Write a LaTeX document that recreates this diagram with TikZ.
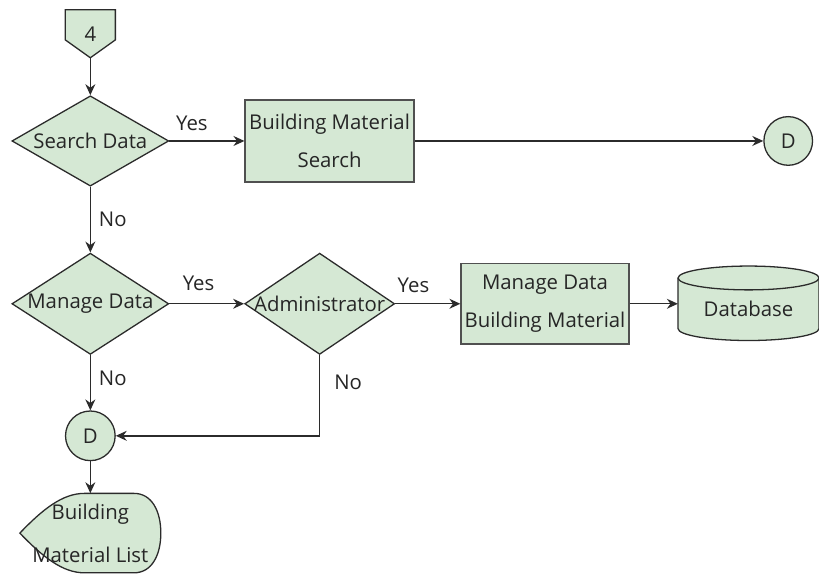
\documentclass[tikz,border=0pt]{standalone}
\usepackage{fontspec}
\setmainfont{Open Sans}
\usepackage{tikz}
\usetikzlibrary{arrows.meta,calc,positioning,shapes.geometric,backgrounds}
\definecolor{flowgreen}{HTML}{D5E8D4}
\definecolor{flowedge}{HTML}{505050}
\definecolor{flowline}{HTML}{2B2B2B}

\begin{document}
\begin{tikzpicture}[
  x=1pt,y=1pt,
  >={Stealth[length=11pt,width=10pt]},
  on grid,
  every node/.style={font=\fontsize{20.5}{38}\selectfont,text=black!85},
  decision/.style={diamond,draw=flowline,line width=1.3pt,fill=flowgreen,inner sep=0pt,
                   minimum width=158pt,minimum height=91pt},
  process/.style={rectangle,draw=flowedge,line width=1.6pt,fill=flowgreen,align=center,
                  minimum width=170pt,minimum height=83pt},
  connector/.style={circle,draw=flowline,line width=1.3pt,fill=flowgreen,inner sep=0pt,
                    minimum size=49pt},
  outline/.style={draw=flowline,line width=1.3pt,fill=flowgreen},
  flow/.style={draw=flowline,line width=1.4pt,->},
  tag/.style={inner sep=2pt}
]
  \node[decision] (search) at (91,-142) {\makebox[0pt]{Search Data}};
  \node[above=108pt of search,minimum width=50pt,minimum height=48pt] (four) {4};
  \node[process,right=241pt of search] (find) {Building Material\\Search};
  \node[connector,right=462pt of find] (jumpA) {D};
  \node[decision,below=164pt of search,minimum height=102pt] (manage) {\makebox[0pt]{Manage Data}};
  \node[decision,right=231pt of manage,minimum width=151pt,minimum height=102pt] (admin)
    {\makebox[0pt]{Administrator}};
  \node[process,right=227pt of admin,minimum width=169pt,minimum height=81pt] (edit)
    {Manage Data\\Building Material};
  \node[right=205pt of edit,minimum width=142pt,minimum height=75pt,
        text height=25pt,text depth=0pt] (db) {Database};
  \node[connector,below=133pt of manage,minimum size=50pt] (jumpB) {D};
  \node[below=98pt of jumpB,minimum width=142pt,minimum height=80pt,align=center] (list)
    {Building\\[5pt]Material List};

  % shapes drawn behind their text
  \begin{scope}[on background layer]
    \path[use as bounding box,fill=white] (0,0) rectangle (819,-578);
    \path[outline] (four.north west) -- (four.north east) -- ($(four.south east)+(0,18)$)
      -- (four.south) -- ($(four.south west)+(0,18)$) -- cycle;
    \path[outline,shift={(db.center)}] (-71,26) -- (-71,-25)
      arc[start angle=180,end angle=360,x radius=71,y radius=12] -- (71,26)
      arc[start angle=0,end angle=180,x radius=71,y radius=12] -- cycle;
    \draw[draw=flowline,line width=1.3pt,shift={(db.center)}] (-71,26)
      arc[start angle=180,end angle=360,x radius=71,y radius=12];
    \path[outline,shift={(list.center)}] (-71,0) .. controls (-48,24) and (-28,40) .. (-6,40)
      -- (44,40) .. controls (62,40) and (71,22) .. (71,0)
      .. controls (71,-22) and (62,-40) .. (44,-40) -- (-6,-40)
      .. controls (-28,-40) and (-48,-24) .. (-71,0) -- cycle;
  \end{scope}

  \draw[flow] (four) -- (search);
  \draw[flow] (search) -- node[tag,pos=0.3,above=8pt]{Yes} (find);
  \draw[flow] (find) -- (jumpA);
  \draw[flow] (search) -- node[tag,right=6pt]{No} (manage);
  \draw[flow] (manage) -- node[tag,pos=0.39,above=10pt]{Yes} (admin);
  \draw[flow] (admin) -- node[tag,pos=0.28,above=8pt]{Yes} (edit);
  \draw[flow] (edit) -- (db);
  \draw[flow] (manage) -- node[tag,pos=0.42,right=6pt]{No} (jumpB);
  \draw[flow] (admin) |- node[tag,pos=0.17,right=12pt]{No} (jumpB);
  \draw[flow] (jumpB) -- (list);
\end{tikzpicture}
\end{document}
